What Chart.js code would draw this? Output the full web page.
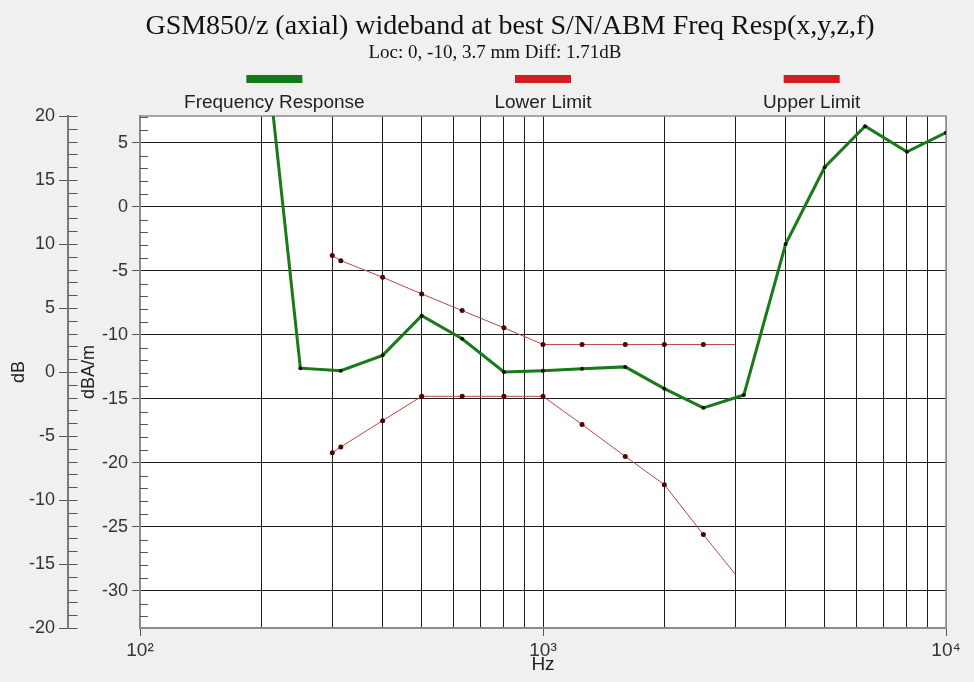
<!DOCTYPE html>
<html>
<head>
<meta charset="utf-8">
<script src="https://cdn.jsdelivr.net/npm/chart.js@4.4.1/dist/chart.umd.min.js"></script>
<style>
  html, body { margin: 0; padding: 0; background: #f0f0f0; }
  #wrap { width: 974px; height: 682px; }
</style>
</head>
<body>
<div id="wrap"><canvas id="chart" width="974" height="682"></canvas></div>
<script>
// Frequency response (dBA/m) at 1/3-octave bands
const RESP_FREQ = [200, 250, 315, 400, 500, 630, 800, 1000, 1250, 1600, 2000, 2500, 3150, 4000, 5000, 6300, 8000, 10000];
const RESP_DB   = [15.8, -12.6, -12.8, -11.6, -8.5, -10.3, -12.9, -12.8, -12.65, -12.5, -14.2, -15.7, -14.7, -2.9, 3.1, 6.3, 4.3, 5.8];

// Limit masks
const LIMIT_FREQ = [300, 315, 400, 500, 630, 800, 1000, 1250, 1600, 2000, 2500, 3000];
const LOWER_DB   = [-19.2, -18.75, -16.7, -14.8, -14.8, -14.8, -14.8, -17.0, -19.5, -21.7, -25.6, -28.7];
const UPPER_DB   = [-3.8, -4.2, -5.5, -6.8, -8.1, -9.45, -10.75, -10.75, -10.75, -10.75, -10.75, -10.75];

// Axis ticks
const X_TICKS = [100, 200, 300, 400, 500, 600, 700, 800, 900, 1000, 2000, 3000, 4000, 5000, 6000, 7000, 8000, 9000, 10000];
const X_LABELS = { 100: '10²', 1000: '10³', 10000: '10⁴' };
const INNER_TICKS = [-30, -25, -20, -15, -10, -5, 0, 5];
const OUTER_TICKS = [-20, -15, -10, -5, 0, 5, 10, 15, 20];

const TITLE = 'GSM850/z (axial) wideband at best S/N/ABM Freq Resp(x,y,z,f)';
const SUBTITLE = 'Loc: 0, -10, 3.7 mm Diff: 1.71dB';

const SANS = '"Liberation Sans", Arial, sans-serif';
const SERIF = '"Liberation Serif", "Times New Roman", serif';

const pts = (xs, ys) => xs.map((x, i) => ({ x, y: ys[i] }));

// plot background, minor ticks, frame, title block and legend
const decor = {
  id: 'decor',
  beforeDraw(chart) {
    const { ctx, chartArea: a } = chart;
    ctx.save();
    ctx.fillStyle = '#ffffff';
    ctx.fillRect(a.left, a.top, a.right - a.left, a.bottom - a.top);
    ctx.restore();
  },
  beforeDatasetsDraw(chart) {
    const { ctx, chartArea: a, scales } = chart;
    ctx.save();
    ctx.strokeStyle = '#555';
    ctx.lineWidth = 1;
    ctx.beginPath();
    const outer = scales.y2;
    const ox = Math.round(outer.right) + 0.5;
    for (let v = -20; v <= 20; v++) {
      const y = Math.round(outer.getPixelForValue(v)) + 0.5;
      ctx.moveTo(ox, y); ctx.lineTo(ox + 9, y);
    }
    const inner = scales.y;
    for (let v = -32; v <= 7; v++) {
      if (v % 5 === 0) continue;
      const y = Math.round(inner.getPixelForValue(v)) + 0.5;
      ctx.moveTo(a.left, y); ctx.lineTo(a.left + 8, y);
    }
    ctx.stroke();
    ctx.strokeStyle = '#8c8c8c';
    ctx.lineWidth = 1.5;
    ctx.beginPath();
    ctx.moveTo(a.left, a.top); ctx.lineTo(a.right, a.top); ctx.lineTo(a.right, a.bottom);
    ctx.stroke();
    ctx.restore();
  },
  afterDraw(chart) {
    const { ctx, chartArea: a } = chart;
    ctx.save();
    ctx.textAlign = 'center';
    ctx.textBaseline = 'middle';
    ctx.fillStyle = '#111';
    ctx.font = '28px ' + SERIF;
    ctx.fillText(TITLE, 510, 27);
    ctx.font = '19px ' + SERIF;
    ctx.fillText(SUBTITLE, 495, 53);

    const col = (a.right - a.left) / chart.data.datasets.length;
    chart.data.datasets.forEach((ds, i) => {
      const cx = a.left + col * (i + 0.5);
      ctx.fillStyle = ds.swatch;
      ctx.fillRect(cx - 28, 75, 56, 8);
      ctx.fillStyle = '#222';
      ctx.font = '19px ' + SANS;
      ctx.fillText(ds.label, cx, 103);
    });
    ctx.restore();
  },
};

new Chart(document.getElementById('chart'), {
  type: 'line',
  data: {
    datasets: [
      {
        label: 'Frequency Response', swatch: '#127a12',
        data: pts(RESP_FREQ, RESP_DB),
        borderColor: '#187a18', borderWidth: 3,
        pointRadius: 2, pointBackgroundColor: '#111', pointBorderWidth: 0,
        yAxisID: 'y', order: 0,
      },
      {
        label: 'Lower Limit', swatch: '#d21d1d',
        data: pts(LIMIT_FREQ, LOWER_DB),
        borderColor: '#b84848', borderWidth: 1,
        pointRadius: ctx => (ctx.raw && ctx.raw.x === 3000 ? 0 : 2.5),
        pointBackgroundColor: '#4a0505', pointBorderWidth: 0,
        yAxisID: 'y', order: 1,
      },
      {
        label: 'Upper Limit', swatch: '#d21d1d',
        data: pts(LIMIT_FREQ, UPPER_DB),
        borderColor: '#b84848', borderWidth: 1,
        pointRadius: ctx => (ctx.raw && ctx.raw.x === 3000 ? 0 : 2.5),
        pointBackgroundColor: '#4a0505', pointBorderWidth: 0,
        yAxisID: 'y', order: 1,
      },
    ],
  },
  options: {
    responsive: false,
    animation: false,
    layout: { padding: { top: 116, right: 28, left: 8, bottom: 4 } },
    plugins: { legend: { display: false }, tooltip: { enabled: false }, title: { display: false } },
    scales: {
      x: {
        type: 'logarithmic', min: 100, max: 10000, position: 'bottom',
        afterBuildTicks: s => { s.ticks = X_TICKS.map(v => ({ value: v })); },
        afterFit: s => { s.height = 50; },
        ticks: {
          autoSkip: false, maxRotation: 0, padding: 3,
          color: '#333', font: { family: SANS, size: 19 },
          callback: v => X_LABELS[v] || '',
        },
        grid: {
          color: c => (c.tick && (c.tick.value === 100 || c.tick.value === 10000) ? '#8c8c8c' : '#1e1e1e'),
          lineWidth: 1, tickLength: 8,
          tickColor: c => (c.tick && X_LABELS[c.tick.value] ? '#555' : 'rgba(0,0,0,0)'),
        },
        border: { color: '#8c8c8c', width: 2 },
        title: { display: true, text: 'Hz', color: '#222', font: { family: SANS, size: 19 }, padding: { top: 0, bottom: 2 } },
      },
      y: {
        type: 'linear', position: 'left', min: -32.9, max: 7.1, weight: 0,
        afterBuildTicks: s => { s.ticks = INNER_TICKS.map(v => ({ value: v })); },
        afterFit: s => { s.width = 72; },
        ticks: { color: '#333', font: { family: SANS, size: 18 }, padding: 4 },
        grid: { color: '#1e1e1e', lineWidth: 1, tickLength: 8, tickColor: '#555' },
        border: { color: '#8c8c8c', width: 2 },
        title: { display: true, text: 'dBA/m', color: '#222', font: { family: SANS, size: 18 }, padding: { top: 10, bottom: 0 } },
      },
      y2: {
        type: 'linear', position: 'left', min: -20, max: 20, weight: 1,
        afterBuildTicks: s => { s.ticks = OUTER_TICKS.map(v => ({ value: v })); },
        afterFit: s => { s.width = 60; },
        ticks: { color: '#333', font: { family: SANS, size: 18 }, padding: 4 },
        grid: { drawOnChartArea: false, tickLength: 9, tickColor: '#555' },
        border: { color: '#7a7a7a', width: 2 },
        title: { display: true, text: 'dB', color: '#222', font: { family: SANS, size: 18 }, padding: { top: 0, bottom: 0 } },
      },
    },
  },
  plugins: [decor],
});
</script>
</body>
</html>
